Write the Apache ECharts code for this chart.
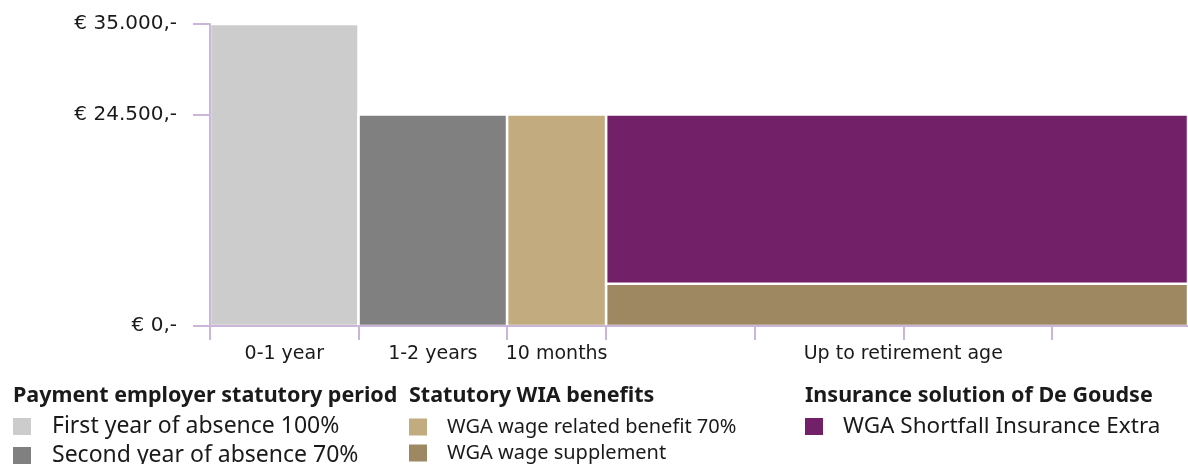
<!DOCTYPE html>
<html>
<head>
<meta charset="utf-8">
<script src="https://cdn.jsdelivr.net/npm/echarts@6/dist/echarts.min.js"></script>
<style>
  html, body { margin: 0; padding: 0; background: #fff; }
  #chart { width: 1188px; height: 464px; }
</style>
</head>
<body>
<div id="chart"></div>
<script>
// ---- data ----
const categories = ['0-1 year', '1-2 years', '10 months', 'Up to retirement age'];
const periodStart = [0, 12, 24, 32];
const periodEnd = [12, 24, 32, 79];
const xTickValues = [0, 12, 24, 32, 44, 56, 68];
const xLabelValues = [6, 18, 28, 56];
const yTickValues = [0, 24500, 35000];
const yTickLabels = ['€ 0,-', '€ 24.500,-', '€ 35.000,-'];

const firstYear = [35000, 0, 0, 0];
const secondYear = [0, 24500, 0, 0];
const wgaRelated = [0, 0, 24500, 0];
const wgaSupplement = [0, 0, 0, 4900];
const shortfall = [0, 0, 0, 19600];

const groupTitles = ['Payment employer statutory period', 'Statutory WIA benefits', 'Insurance solution of De Goudse'];

// stacking order (bottom to top)
const seriesDefs = [
  { name: 'First year of absence 100%', values: firstYear, color: '#cccccc', group: 0 },
  { name: 'Second year of absence 70%', values: secondYear, color: '#808080', group: 0 },
  { name: 'WGA wage related benefit 70%', values: wgaRelated, color: '#c2ab7f', group: 1 },
  { name: 'WGA wage supplement', values: wgaSupplement, color: '#9e8862', group: 1 },
  { name: 'WGA Shortfall Insurance Extra', values: shortfall, color: '#722169', group: 2 }
];

const axisColor = '#cbb5d9';
const textColor = '#1a1a1a';

const base = categories.map(() => 0);
const series = seriesDefs.map(def => {
  const data = [];
  def.values.forEach((v, i) => {
    if (v > 0) {
      data.push([periodStart[i], periodEnd[i], base[i], base[i] + v]);
      base[i] += v;
    }
  });
  return {
    name: def.name,
    type: 'custom',
    itemStyle: { color: def.color },
    encode: { x: [0, 1], y: [2, 3] },
    data: data,
    renderItem: function (params, api) {
      const p0 = api.coord([api.value(0), api.value(3)]);
      const p1 = api.coord([api.value(1), api.value(2)]);
      return {
        type: 'rect',
        shape: { x: p0[0], y: p0[1], width: p1[0] - p0[0], height: p1[1] - p0[1] },
        style: { fill: def.color, stroke: '#ffffff', lineWidth: 2.5 }
      };
    }
  };
});

const legendLefts = [13, 409, 805];
const legendTops = [415, 417, 415];
const legendFont = [23, 20, 22.5];
const legendPad = [16, 15, 15];
const legends = [0, 1, 2].map(g => ({
  data: seriesDefs.filter(d => d.group === g).map(d => d.name),
  left: legendLefts[g],
  top: legendTops[g],
  height: 80,
  orient: 'vertical',
  icon: 'rect',
  itemWidth: 18,
  itemHeight: 17,
  itemGap: 6,
  padding: 0,
  selectedMode: false,
  textStyle: { fontFamily: 'Noto Sans', fontSize: legendFont[g], lineHeight: 20, color: textColor, padding: [0, 0, 0, legendPad[g]] }
}));

const graphics = groupTitles.map((t, g) => ({
  type: 'text',
  left: legendLefts[g],
  top: 385,
  style: { text: t, fontFamily: 'Noto Sans', fontWeight: 'bold', fontSize: 21.5, fill: textColor }
}));

const chart = echarts.init(document.getElementById('chart'), null, { renderer: 'canvas' });
chart.setOption({
  animation: false,
  backgroundColor: '#ffffff',
  grid: { left: 210, right: 0, top: 24, bottom: 138, containLabel: false },
  xAxis: {
    type: 'value',
    min: 0,
    max: 79,
    z: 5,
    splitLine: { show: false },
    axisLine: { show: true, lineStyle: { color: axisColor, width: 2 } },
    axisTick: { show: true, customValues: xTickValues, length: 14, lineStyle: { color: axisColor, width: 2 } },
    axisLabel: {
      customValues: xLabelValues,
      formatter: v => categories[xLabelValues.indexOf(v)] || '',
      fontFamily: 'DejaVu Sans',
      fontSize: 19,
      color: textColor,
      margin: 19
    }
  },
  yAxis: {
    type: 'value',
    min: 0,
    max: 35000,
    z: 5,
    splitLine: { show: false },
    axisLine: { show: true, lineStyle: { color: axisColor, width: 2 } },
    axisTick: { show: true, customValues: yTickValues, length: 17, lineStyle: { color: axisColor, width: 2 } },
    axisLabel: {
      customValues: yTickValues,
      formatter: v => yTickLabels[yTickValues.indexOf(v)] || '',
      fontFamily: 'DejaVu Sans',
      fontSize: 20,
      color: textColor,
      margin: 33
    }
  },
  legend: legends,
  graphic: graphics,
  series: series
});
</script>
</body>
</html>
